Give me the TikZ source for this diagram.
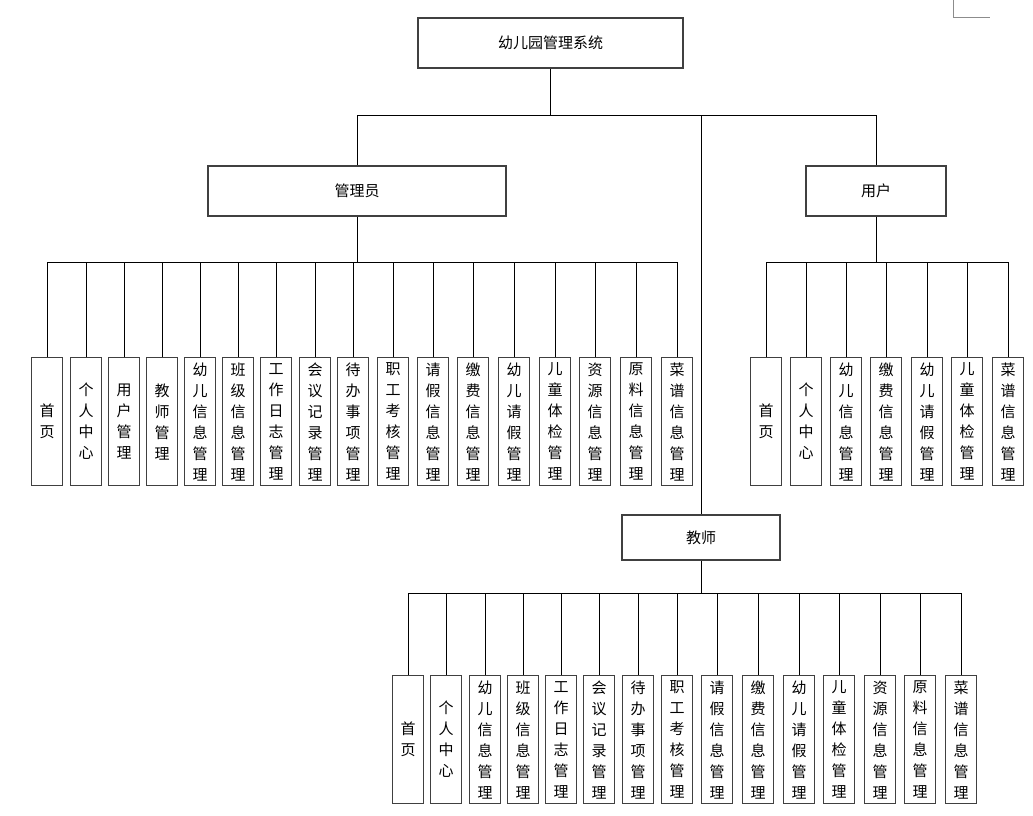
\documentclass[tikz,border=0pt]{standalone}
\usepackage{fontspec}
\setmainfont{Noto Sans CJK SC}
\begin{document}
\begin{tikzpicture}[x=1pt,y=-1pt,
  box/.style={draw=black!75,line width=1.2pt,minimum height=50pt,inner sep=0pt,font=\fontsize{15}{18}\selectfont},
  leaf/.style={draw=black!75,line width=1.2pt,minimum width=31pt,minimum height=128pt,inner sep=0pt,anchor=north,align=center,font=\fontsize{15}{21}\selectfont},
  ln/.style={line width=0.9pt}]
\useasboundingbox (0,0) rectangle (1033,815);
\draw[black!45,line width=1pt] (953,0) -- (953,17) -- (990,17);
\node[box,minimum width=265pt] (top) at (550.5,43) {幼儿园管理系统};
\node[box,minimum width=298pt] (adm) at (357,191) {管理员};
\node[box,minimum width=140pt] (usr) at (876,191) {用户};
\node[box,minimum width=158pt,minimum height=45pt] (tea) at (701,537.5) {教师};
\coordinate (j) at (550.5,115);
\draw[ln] (top.south) -- (j);
\draw[ln] (adm.north) |- (usr.north |- j) -- (usr.north);
\draw[ln] (701,115) -- (tea.north);
% admin leaves
\draw[ln] (47,262) -- (677,262);
\draw[ln] (adm.south) -- (357,262);
\foreach \x/\t [count=\i] in {47/{首\\页},86/{个\\人\\中\\心},124/{用\\户\\管\\理},162/{教\\师\\管\\理},200/{幼\\儿\\信\\息\\管\\理},238/{班\\级\\信\\息\\管\\理},276/{工\\作\\日\\志\\管\\理},315/{会\\议\\记\\录\\管\\理},353/{待\\办\\事\\项\\管\\理},393/{职\\工\\考\\核\\管\\理},433/{请\\假\\信\\息\\管\\理},473/{缴\\费\\信\\息\\管\\理},514/{幼\\儿\\请\\假\\管\\理},555/{儿\\童\\体\\检\\管\\理},595/{资\\源\\信\\息\\管\\理},636/{原\\料\\信\\息\\管\\理},677/{菜\\谱\\信\\息\\管\\理}}{
  \node[leaf] (a\i) at (\x,357) {\t};
  \draw[ln] (\x,262) -- (a\i.north);
}
% user leaves
\draw[ln] (766,262) -- (1008,262);
\draw[ln] (usr.south) -- (876,262);
\foreach \x/\t [count=\i] in {766/{首\\页},806/{个\\人\\中\\心},846/{幼\\儿\\信\\息\\管\\理},886/{缴\\费\\信\\息\\管\\理},927/{幼\\儿\\请\\假\\管\\理},967/{儿\\童\\体\\检\\管\\理},1008/{菜\\谱\\信\\息\\管\\理}}{
  \node[leaf] (u\i) at (\x,357) {\t};
  \draw[ln] (\x,262) -- (u\i.north);
}
% teacher leaves
\draw[ln] (408,593) -- (961,593);
\draw[ln] (tea.south) -- (701,593);
\foreach \x/\t [count=\i] in {408/{首\\页},446/{个\\人\\中\\心},485/{幼\\儿\\信\\息\\管\\理},523/{班\\级\\信\\息\\管\\理},561/{工\\作\\日\\志\\管\\理},599/{会\\议\\记\\录\\管\\理},638/{待\\办\\事\\项\\管\\理},677/{职\\工\\考\\核\\管\\理},717/{请\\假\\信\\息\\管\\理},758/{缴\\费\\信\\息\\管\\理},799/{幼\\儿\\请\\假\\管\\理},839/{儿\\童\\体\\检\\管\\理},880/{资\\源\\信\\息\\管\\理},920/{原\\料\\信\\息\\管\\理},961/{菜\\谱\\信\\息\\管\\理}}{
  \node[leaf] (t\i) at (\x,675) {\t};
  \draw[ln] (\x,593) -- (t\i.north);
}
\end{tikzpicture}
\end{document}
